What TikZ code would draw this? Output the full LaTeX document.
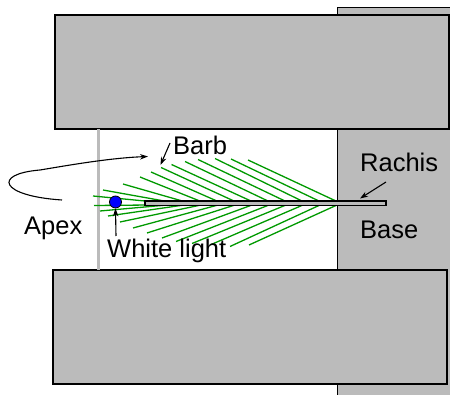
\documentclass[tikz,border=0pt]{standalone}
\usepackage{fontspec}
\setmainfont{Liberation Sans}
\usetikzlibrary{arrows.meta}
\definecolor{blockgray}{HTML}{BBBBBB}
\definecolor{barbgreen}{HTML}{009900}
\begin{document}
\begin{tikzpicture}[x=1pt,y=-1pt,
  block/.style={draw=black,line width=1.4pt,fill=blockgray},
  barb/.style={draw=barbgreen,line width=1.3pt},
  pointer/.style={draw=black,line width=1.1pt,-{Stealth[length=8pt,width=5.5pt]}},
  lbl/.style={font=\fontsize{25.5}{30}\selectfont,inner sep=0pt,anchor=base west}]
\useasboundingbox (0,0) rectangle (450,395);
\clip (0,0) rectangle (450,395);
% base block holding the rachis
\draw[block] (337.5,7.5) rectangle (470,410);
% upper and lower jaws
\draw[block] (55,15) rectangle (449,129);
\draw[block] (53,270) rectangle (447,384);
% support rod at the apex
\draw[blockgray,line width=3pt] (98,129) -- (98,270);
% barbs: tip -> attachment point on the rachis
\foreach \tx/\ty/\ex in {93/196/150, 103/190/167, 123/184/184, 140/177/201,
    151/172/218, 161/167.5/235, 171.5/164.5/252, 185/161.5/269,
    198/159.5/286, 215/158.5/303, 231/159/320, 248/160/337}
  \draw[barb] (\tx,\ty) -- (\ex,201.5);
\foreach \tx/\ty/\ex in {94/205.5/150, 100/211/167, 108/216/184, 120/222/201,
    133/228/218, 147/233/235, 162/238/252, 176/241.5/269,
    192/243.5/286, 210/245/303, 230/246.5/320, 249/245/337}
  \draw[barb] (\tx,\ty) -- (\ex,205);
% rachis
\draw[fill=blockgray,line width=1.2pt] (145,201) rectangle (386,205.5);
% illumination spot
\node[circle,fill=blue,draw=black,line width=0.8pt,minimum size=12pt,inner sep=0pt] (dot) at (115.5,202) {};
% labels
\node[lbl] (apexlbl) at (24,235) {Apex};
\node[lbl] (barblbl) at (173,154.3) {Barb};
\node[lbl] (lightlbl) at (107,257.3) {White light};
\node[lbl] (rachislbl) at (360,171.7) {Rachis};
\node[lbl] (baselbl) at (360,239) {Base};
% pointers
\coordinate (apexstart) at (62,200);
\coordinate (apexend) at (148,156.5);
\draw[pointer] (apexstart) .. controls (0,196) and (-8,174) .. (40,170)
  .. controls (70,165) and (110,158) .. (apexend);
\coordinate (barbstart) at (170,143);
\coordinate (barbend) at (160.5,165);
\draw[pointer] (barbstart) -- (barbend);
\coordinate (lightstart) at (116,236);
\draw[pointer] (lightstart) -- (dot.south);
\coordinate (rachisstart) at (386,182);
\coordinate (rachisend) at (360,198.5);
\draw[pointer] (rachisstart) -- (rachisend);
\end{tikzpicture}
\end{document}
